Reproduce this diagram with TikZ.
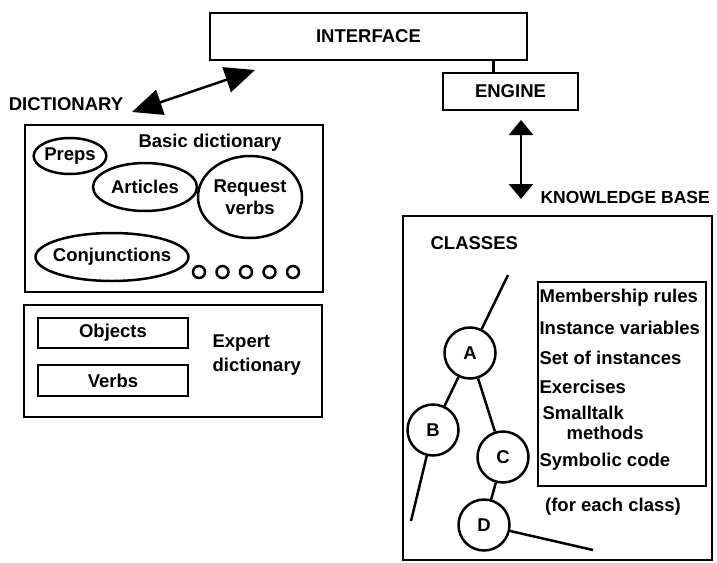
\documentclass[tikz,border=0pt]{standalone}
\usepackage{fontspec}
\setmainfont{Liberation Sans}
\usetikzlibrary{shapes.geometric,arrows.meta,positioning}

\begin{document}
\begin{tikzpicture}[x=1pt, y=-1pt, line width=2.5pt, font=\fontsize{18.5}{22}\selectfont\bfseries,
 rect/.style = {draw, rectangle, inner sep=0pt},
 oval/.style = {draw, ellipse, inner sep=0pt},
 ring/.style = {draw, circle, minimum size=51pt, inner sep=0pt},
 dot/.style = {draw, circle, minimum size=12pt, inner sep=0pt},
 bigarrow/.style = {<->, >={Triangle[length=30pt, width=26pt]}},
 smallarrow/.style = {<->, >={Triangle[length=15pt, width=24pt]}}]
\useasboundingbox (0,0) rectangle (717,562);

\node[rect, minimum width=317pt, minimum height=47pt] (1) at (368.5,36.5) {INTERFACE};
\node[rect, minimum width=135pt, minimum height=37pt] (2) at (510.5,91.5) {ENGINE};
\draw ([xshift=-17pt]2.north) -- ([xshift=-17pt]2.north |- 1.south);

\node (3) at (66,104) {DICTIONARY};
\coordinate (4) at (132,112);
\coordinate (5) at (255,70);
\draw[bigarrow] (4) -- (5);

\node[rect, minimum width=298pt, minimum height=167pt] (6) at (174,208.5) {};
\node (7) at (210,143) {Basic dictionary};
\node[oval, minimum width=70pt, minimum height=36pt] (8) at (70,156) {Preps};
\node[oval, minimum width=104pt, minimum height=48pt] (9) at (145,187) {Articles};
\node[oval, minimum width=104pt, minimum height=82pt, align=center] (10) at (250,197) {Request\\verbs};
\node[oval, minimum width=152pt, minimum height=48pt, inner xsep=-5pt] (11) at (112,257) {Conjunctions};
\node[dot] (12) at (199,272) {};
\node[dot] (13) at (222.5,272) {};
\node[dot] (14) at (246,272) {};
\node[dot] (15) at (269.5,272) {};
\node[dot] (16) at (293,272) {};

\node[rect, minimum width=298pt, minimum height=112pt] (17) at (173,361) {};
\node[rect, minimum width=150pt, minimum height=30pt] (18) at (113,333) {Objects};
\node[rect, minimum width=150pt, minimum height=31pt] (19) at (113,380.5) {Verbs};
\node[anchor=west, align=left] (20) at (208,355) {Expert\\[2pt]dictionary};

\coordinate (21) at (521,120);
\coordinate (22) at (521,199);
\draw[smallarrow] (21) -- (22);
\node[anchor=west, font=\fontsize{17.5}{21}\selectfont\bfseries] (23) at (536,197) {KNOWLEDGE BASE};

\node[rect, minimum width=309pt, minimum height=344pt] (24) at (557.5,388) {};
\node[anchor=west] (25) at (426,243) {CLASSES};

\node[ring] (26) at (470,353) {A};
\node[ring] (27) at (433,430) {B};
\node[ring] (28) at (503,457) {C};
\node[ring] (29) at (484,525) {D};
\coordinate (30) at (508,275);
\coordinate (31) at (411,521);
\coordinate (32) at (593,550);
\draw (30) -- (26);
\draw (26) -- (27);
\draw (26) -- (28);
\draw (28) -- (29);
\draw (27) -- (31);
\draw (29) -- (32);

\node[rect, minimum width=168pt, minimum height=204pt] (33) at (622,384) {};
\node[anchor=west] (34) at (535,298) {Membership rules};
\node[anchor=west] (35) at (535,328) {Instance variables};
\node[anchor=west] (36) at (535,358) {Set of instances};
\node[anchor=west] (37) at (535,387) {Exercises};
\node[anchor=west] (38) at (538,413) {Smalltalk};
\node[anchor=west] (39) at (562,433) {methods};
\node[anchor=west] (40) at (535,462) {Symbolic code};
\node (41) at (613,507) {(for each class)};
\end{tikzpicture}
\end{document}
